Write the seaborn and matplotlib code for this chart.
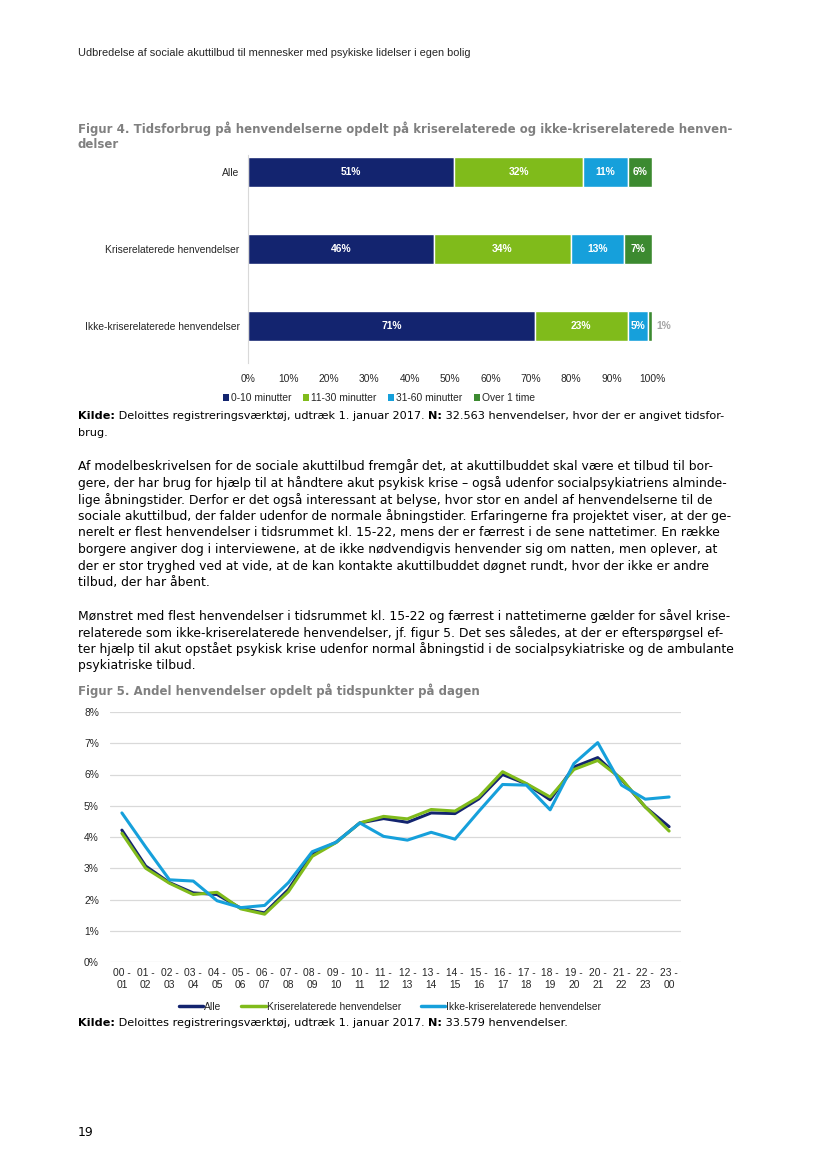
import numpy as np
import pandas as pd
import matplotlib
matplotlib.use("Agg")
import matplotlib.pyplot as plt
import seaborn as sns
from matplotlib.patches import Patch
from matplotlib.lines import Line2D

# Figur 4: tidsforbrug pr. henvendelse (andel i %)
groups = ["Alle", "Kriserelaterede henvendelser", "Ikke-kriserelaterede henvendelser"]
segments = ["0-10 minutter", "11-30 minutter", "31-60 minutter", "Over 1 time"]
min_0_10 = [51, 46, 71]
min_11_30 = [32, 34, 23]
min_31_60 = [11, 13, 5]
over_1_time = [6, 7, 1]

# Figur 5: andel henvendelser pr. tidsrum (%)
hours = ["00 -\n01", "01 -\n02", "02 -\n03", "03 -\n04", "04 -\n05", "05 -\n06",
         "06 -\n07", "07 -\n08", "08 -\n09", "09 -\n10", "10 -\n11", "11 -\n12",
         "12 -\n13", "13 -\n14", "14 -\n15", "15 -\n16", "16 -\n17", "17 -\n18",
         "18 -\n19", "19 -\n20", "20 -\n21", "21 -\n22", "22 -\n23", "23 -\n00"]
alle = [4.22, 3.07, 2.54, 2.21, 2.16, 1.72, 1.57, 2.32, 3.46, 3.83, 4.45, 4.59,
        4.47, 4.77, 4.75, 5.22, 6.00, 5.70, 5.19, 6.24, 6.54, 5.84, 4.96, 4.33]
krise = [4.12, 3.00, 2.52, 2.16, 2.23, 1.70, 1.53, 2.25, 3.38, 3.82, 4.45, 4.66,
         4.58, 4.88, 4.83, 5.28, 6.09, 5.71, 5.28, 6.16, 6.45, 5.86, 4.96, 4.19]
ikke = [4.77, 3.68, 2.63, 2.59, 1.96, 1.74, 1.81, 2.54, 3.53, 3.83, 4.45, 4.02,
        3.90, 4.15, 3.93, 4.82, 5.68, 5.66, 4.87, 6.35, 7.02, 5.66, 5.21, 5.28]
series = ["Alle", "Kriserelaterede henvendelser", "Ikke-kriserelaterede henvendelser"]

header = "Udbredelse af sociale akuttilbud til mennesker med psykiske lidelser i egen bolig"
fig4_title = ["Figur 4. Tidsforbrug på henvendelserne opdelt på kriserelaterede og ikke-kriserelaterede henven-",
              "delser"]
fig5_title = "Figur 5. Andel henvendelser opdelt på tidspunkter på dagen"
para1 = [
    "Af modelbeskrivelsen for de sociale akuttilbud fremgår det, at akuttilbuddet skal være et tilbud til bor-",
    "gere, der har brug for hjælp til at håndtere akut psykisk krise – også udenfor socialpsykiatriens alminde-",
    "lige åbningstider. Derfor er det også interessant at belyse, hvor stor en andel af henvendelserne til de",
    "sociale akuttilbud, der falder udenfor de normale åbningstider. Erfaringerne fra projektet viser, at der ge-",
    "nerelt er flest henvendelser i tidsrummet kl. 15-22, mens der er færrest i de sene nattetimer. En række",
    "borgere angiver dog i interviewene, at de ikke nødvendigvis henvender sig om natten, men oplever, at",
    "der er stor tryghed ved at vide, at de kan kontakte akuttilbuddet døgnet rundt, hvor der ikke er andre",
    "tilbud, der har åbent.",
]
para2 = [
    "Mønstret med flest henvendelser i tidsrummet kl. 15-22 og færrest i nattetimerne gælder for såvel krise-",
    "relaterede som ikke-kriserelaterede henvendelser, jf. figur 5. Det ses således, at der er efterspørgsel ef-",
    "ter hjælp til akut opstået psykisk krise udenfor normal åbningstid i de socialpsykiatriske og de ambulante",
    "psykiatriske tilbud.",
]
kilde4 = [("Kilde:", "bold"), (" Deloittes registreringsværktøj, udtræk 1. januar 2017. ", "normal"),
          ("N:", "bold"), (" 32.563 henvendelser, hvor der er angivet tidsfor-", "normal")]
kilde5 = [("Kilde:", "bold"), (" Deloittes registreringsværktøj, udtræk 1. januar 2017. ", "normal"),
          ("N:", "bold"), (" 33.579 henvendelser.", "normal")]

seg_colors = ["#13246f", "#80bb1b", "#16a0db", "#3c8a30"]
line_colors = ["#13246f", "#80bb1b", "#16a0db"]
grid_col = "#d9d9d9"
fs = 7.4

sns.set_style("white")
plt.rcParams["font.family"] = ["Liberation Sans", "DejaVu Sans"]

W, H = 827, 1169
fig = plt.figure(figsize=(8.27, 11.69), dpi=100)
renderer = fig.canvas.get_renderer()


def box(x0, y0, x1, y1):
    return [x0 / W, 1 - y1 / H, (x1 - x0) / W, (y1 - y0) / H]


def width_of(parts, size, family="DejaVu Sans"):
    total = 0
    for s, weight in parts:
        t = fig.text(0, 0, s, fontsize=size, fontweight=weight, family=family)
        total += t.get_window_extent(renderer).width
        t.remove()
    return total


def fit(parts, target, family="DejaVu Sans"):
    return 10 * target / width_of(parts, 10, family)


def put_runs(x, y, parts, size, color="black", family="DejaVu Sans"):
    for s, weight in parts:
        t = fig.text(x / W, 1 - y / H, s, fontsize=size, fontweight=weight,
                     family=family, color=color, va="center", ha="left")
        x += t.get_window_extent(renderer).width


# ---------- page text ----------
LEFT = 78
hsize = fit([(header, "normal")], 395, "Liberation Sans")
fig.text(LEFT / W, 1 - 53 / H, header, fontsize=hsize, family="Liberation Sans", va="center")

tsize = fit([(fig4_title[0], "bold")], 651)
grey = "#808080"
for i, line in enumerate(fig4_title):
    put_runs(LEFT, 129 + 16 * i, [(line, "bold")], tsize, color=grey)
put_runs(LEFT, 691, [(fig5_title, "bold")], tsize, color=grey)

ksize = fit(kilde4, 647)
put_runs(LEFT, 416, kilde4, ksize)
put_runs(LEFT, 433, [("brug.", "normal")], ksize)
put_runs(LEFT, 1023, kilde5, ksize)

widest = max(para1 + para2, key=lambda s: width_of([(s, "normal")], 10))
bsize = fit([(widest, "normal")], 659)
for i, line in enumerate(para1):
    put_runs(LEFT, 466.5 + 16.6 * i, [(line, "normal")], bsize)
for i, line in enumerate(para2):
    put_runs(LEFT, 616 + 16.6 * i, [(line, "normal")], bsize)

put_runs(LEFT, 1132, [("19", "normal")], bsize)

# ---------- Figur 4: stacked bars ----------
ax1 = fig.add_axes(box(248, 155, 652, 363))
bars = pd.DataFrame({"gruppe": groups, segments[0]: min_0_10, segments[1]: min_11_30,
                     segments[2]: min_31_60, segments[3]: over_1_time})
left = np.zeros(len(groups))
for seg, col in zip(segments, seg_colors):
    vals = bars[seg].to_numpy(dtype=float)
    sns.barplot(data=bars, x=seg, y="gruppe", color=col, saturation=1, errorbar=None,
                width=30 / 77, left=left, ax=ax1)
    for j, v in enumerate(vals):
        if v >= 3:
            ax1.text(left[j] + v / 2, j, f"{v:.0f}%", ha="center", va="center",
                     color="white", fontsize=fs, fontweight="bold")
        else:
            ax1.text(left[j] + v + 1.2, j, f"{v:.0f}%", ha="left", va="center",
                     color="#a6a6a6", fontsize=fs, fontweight="bold")
    left = left + vals

ax1.set_xlim(0, 100)
ax1.set_ylim(2.48, -0.22)
ax1.set_xticks(np.arange(0, 101, 10))
ax1.set_xticklabels([f"{v}%" for v in range(0, 101, 10)])
ax1.set_xlabel("")
ax1.set_ylabel("")
ax1.tick_params(axis="x", length=0, pad=8, labelsize=fs, colors="#262626")
ax1.tick_params(axis="y", length=0, pad=6, labelsize=fs, colors="#262626")
for side in ["top", "right", "bottom"]:
    ax1.spines[side].set_visible(False)
ax1.spines["left"].set_color(grid_col)
ax1.spines["left"].set_linewidth(0.8)

seg_handles = [Patch(facecolor=c, edgecolor="none") for c in seg_colors]
fig.legend(seg_handles, segments, loc="center", bbox_to_anchor=(379 / W, 1 - 398 / H),
           ncol=4, frameon=False, fontsize=fs, handlelength=0.6, handleheight=0.6,
           handletextpad=0.2, columnspacing=1.1, borderaxespad=0)

# ---------- Figur 5: lines ----------
ax2 = fig.add_axes(box(110, 712, 681, 962))
lines = pd.DataFrame({"pos": np.arange(len(hours)), series[0]: alle,
                      series[1]: krise, series[2]: ikke})
long = lines.melt(id_vars="pos", var_name="serie", value_name="andel")
sns.lineplot(data=long, x="pos", y="andel", hue="serie", hue_order=series,
             palette=line_colors, linewidth=2.2, legend=False, ax=ax2)

ax2.set_xlim(-0.5, len(hours) - 0.5)
ax2.set_ylim(0, 8)
ax2.set_yticks(range(0, 9))
ax2.set_yticklabels([f"{v}%" for v in range(0, 9)])
ax2.set_xticks(range(len(hours)))
ax2.set_xticklabels(hours, linespacing=1.3)
ax2.set_xlabel("")
ax2.set_ylabel("")
ax2.grid(axis="y", color=grid_col, linewidth=0.9)
ax2.set_axisbelow(True)
ax2.tick_params(axis="x", length=0, pad=4, labelsize=fs, colors="#262626")
ax2.tick_params(axis="y", length=0, pad=8, labelsize=fs, colors="#262626")
for side in ["top", "right", "left", "bottom"]:
    ax2.spines[side].set_visible(False)

line_handles = [Line2D([0], [0], color=c, lw=2.5) for c in line_colors]
fig.legend(line_handles, series, loc="center", bbox_to_anchor=(390 / W, 1 - 1007 / H),
           ncol=3, frameon=False, fontsize=fs, handlelength=2.4, handletextpad=0.1,
           columnspacing=1.9, borderaxespad=0)

fig.savefig("out.png", dpi=100)
